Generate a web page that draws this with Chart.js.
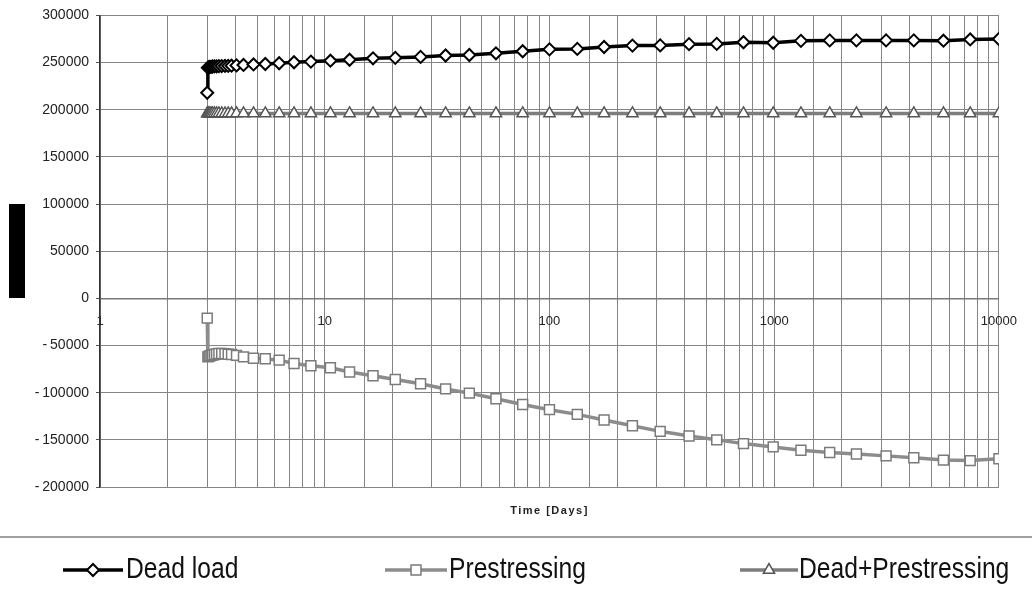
<!DOCTYPE html>
<html><head><meta charset="utf-8">
<script src="https://cdn.jsdelivr.net/npm/chart.js@4.4.1/dist/chart.umd.min.js"></script>
<style>html,body{margin:0;padding:0;background:#fff;}canvas{display:block;}</style>
</head><body>
<canvas id="c" width="1032" height="607"></canvas>
<script>
// ---- data ----
const timeDays = [3.0, 3.02, 3.05, 3.08, 3.12, 3.17, 3.23, 3.3, 3.38, 3.48, 3.6, 3.72,
  3.85, 4.05, 4.35, 4.82, 5.44, 6.27, 7.3, 8.68, 10.6, 12.9, 16.4, 20.6, 26.7, 34.5,
  44, 57.8, 76, 100, 133, 175, 234, 311, 418, 555, 730, 990, 1315, 1766, 2322, 3147,
  4180, 5665, 7450, 10000];
const deadLoad = [218000, 244500, 245000, 245500, 245500, 245800, 246000, 246000, 246200, 246300, 246400, 246500,
  246700, 247000, 247500, 248000, 248500, 249300, 250300, 251000, 252000, 253000, 254500, 255000, 256000, 257500,
  258000, 259800, 262000, 264000, 264500, 266500, 268000, 268200, 269500, 269800, 271500, 271000, 273000, 273500,
  273500, 273500, 273500, 273200, 274500, 275000];
const prestressing = [-21000, -62000, -61500, -61000, -60500, -60000, -59500, -59000, -58500, -58500, -58800, -59200,
  -59500, -60500, -62000, -63500, -64000, -65500, -69000, -71500, -73600, -78000, -82000, -86000, -90500, -96000,
  -100500, -106500, -112500, -118000, -123000, -129000, -135000, -141000, -146000, -150000, -154000, -157500, -161000, -163500,
  -165000, -167000, -169000, -171500, -172000, -170000];
const deadPlusPrestressing = [196000, 196000, 196000, 196000, 196000, 196000, 196000, 196000, 196000, 196000, 196000, 196000,
  196000, 196000, 196000, 196000, 196000, 196000, 196000, 196000, 196000, 196000, 196000, 196000, 196000, 196000,
  196000, 196000, 196000, 196000, 196000, 196000, 196000, 196000, 196000, 196000, 196000, 196000, 196000, 196000,
  196000, 196000, 196000, 196000, 196000, 196000];
const seriesNames = ['Dead load', 'Prestressing', 'Dead+Prestressing'];
const xAxisTitle = 'Time [Days]';
const xLabelTicks = [1, 10, 100, 1000, 10000];
const yMin = -200000, yMax = 300000, yStep = 50000;

function toPoints(vals) { return timeDays.map((t, i) => ({ x: t, y: vals[i] })); }

const styles = [
  { line: '#000000', lineWidth: 3.5, marker: 'rectRot', radius: 6, mBorder: '#000000', mWidth: 2 },
  { line: '#8c8c8c', lineWidth: 3.5, marker: 'rect', radius: 7, mBorder: '#7a7a7a', mWidth: 1.5 },
  { line: '#7d7d7d', lineWidth: 3.5, marker: 'triangle', radius: 6.5, mBorder: '#555555', mWidth: 1.5 }
];
const seriesData = [deadLoad, prestressing, deadPlusPrestressing];

const datasets = seriesNames.map((name, i) => ({
  label: name,
  data: toPoints(seriesData[i]),
  borderColor: styles[i].line,
  borderWidth: styles[i].lineWidth,
  pointStyle: styles[i].marker,
  pointRadius: styles[i].radius,
  pointBorderColor: styles[i].mBorder,
  pointBorderWidth: styles[i].mWidth,
  pointBackgroundColor: '#ffffff',
  tension: 0,
  fill: false
}));

function drawMarker(ctx, style, x, y, r) {
  ctx.beginPath();
  if (style === 'rectRot') {
    ctx.moveTo(x, y - r); ctx.lineTo(x + r, y); ctx.lineTo(x, y + r); ctx.lineTo(x - r, y); ctx.closePath();
  } else if (style === 'rect') {
    const s = r * Math.SQRT1_2;
    ctx.rect(x - s, y - s, 2 * s, 2 * s);
  } else {
    const w = r * Math.sqrt(3) / 2;
    ctx.moveTo(x, y - r); ctx.lineTo(x + w, y + r / 2); ctx.lineTo(x - w, y + r / 2); ctx.closePath();
  }
  ctx.fill(); ctx.stroke();
}

const decorPlugin = {
  id: 'decor',
  afterDraw(chart) {
    const ctx = chart.ctx;
    ctx.save();
    // redacted y-axis title block
    ctx.fillStyle = '#000';
    ctx.fillRect(9, 204, 16, 94);
    // x axis title
    ctx.fillStyle = '#222';
    ctx.font = 'bold 11px "Liberation Sans", Arial, sans-serif';
    ctx.letterSpacing = '1.5px';
    ctx.textAlign = 'center';
    ctx.textBaseline = 'middle';
    ctx.fillText(xAxisTitle, (chart.chartArea.left + chart.chartArea.right) / 2, 511);
    ctx.letterSpacing = '0px';
    // separator
    ctx.strokeStyle = '#a0a0a0';
    ctx.lineWidth = 2;
    ctx.beginPath(); ctx.moveTo(0, 537); ctx.lineTo(1032, 537); ctx.stroke();
    // legend
    const items = [
      { x0: 63, x1: 123, tx: 126 },
      { x0: 385, x1: 447, tx: 449 },
      { x0: 740, x1: 798, tx: 799 }
    ];
    const ly = 570;
    items.forEach((it, i) => {
      const st = styles[i];
      ctx.strokeStyle = st.line; ctx.lineWidth = st.lineWidth;
      ctx.beginPath(); ctx.moveTo(it.x0, ly); ctx.lineTo(it.x1, ly); ctx.stroke();
      ctx.fillStyle = '#fff'; ctx.strokeStyle = st.mBorder; ctx.lineWidth = st.mWidth;
      drawMarker(ctx, st.marker, (it.x0 + it.x1) / 2, ly, st.radius);
      ctx.save();
      ctx.translate(it.tx, ly);
      ctx.scale(0.85, 1);
      ctx.fillStyle = '#111';
      ctx.font = '29px "Liberation Sans", Arial, sans-serif';
      ctx.textAlign = 'left';
      ctx.textBaseline = 'middle';
      ctx.fillText(seriesNames[i], 0, 0);
      ctx.restore();
    });
    ctx.restore();
  }
};

new Chart(document.getElementById('c'), {
  type: 'line',
  data: { datasets },
  options: {
    responsive: false,
    animation: false,
    layout: { padding: { left: 0, right: 23, top: 14, bottom: 120 } },
    plugins: { legend: { display: false }, tooltip: { enabled: false } },
    scales: {
      x: {
        type: 'logarithmic',
        min: 1, max: 10000,
        position: { y: 0 },
        grid: { color: '#858585', lineWidth: 1, drawTicks: false },
        border: { display: true, color: '#7a7a7a', width: 1.5 },
        ticks: {
          autoSkip: false, maxRotation: 0, padding: 15,
          color: '#222', font: { family: '"Liberation Sans", Arial, sans-serif', size: 13 },
          callback: (v) => xLabelTicks.includes(v) ? String(v) : ''
        }
      },
      y: {
        type: 'linear',
        min: yMin, max: yMax,
        afterFit(scale) { scale.width = 100; },
        grid: { color: '#858585', lineWidth: 1, drawTicks: true, tickLength: 4, tickColor: '#555' },
        border: { display: true, color: '#333', width: 1.5 },
        ticks: {
          stepSize: yStep, padding: 7,
          color: '#222', font: { family: '"Liberation Sans", Arial, sans-serif', size: 14 },
          callback: (v) => v < 0 ? '-\u2009' + Math.abs(v) : String(v)
        }
      }
    }
  },
  plugins: [decorPlugin]
});
</script>
</body></html>
